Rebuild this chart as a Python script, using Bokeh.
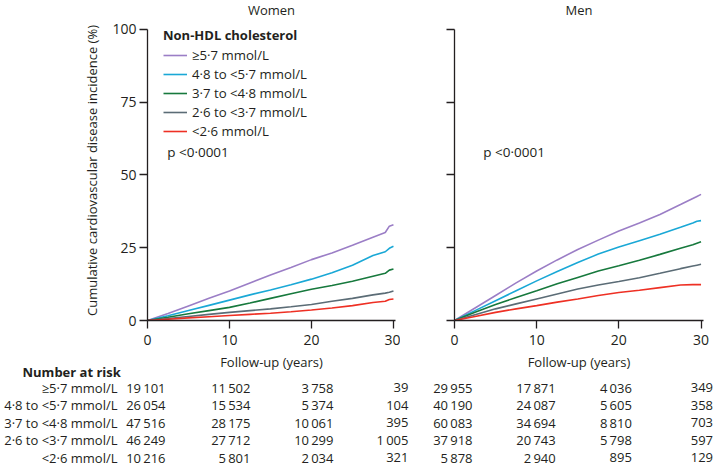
from bokeh.plotting import figure
from bokeh.models import Range1d, Legend, LegendItem, Label, FixedTicker
from bokeh.layouts import column, row
from bokeh.embed import file_html
from bokeh.resources import INLINE
from bokeh.core.properties import value

# ---------------- data ----------------
years = [0, 2.5, 5, 7.5, 10, 12.5, 15, 17.5, 20, 22.5, 25, 27.5, 29, 29.5, 30]
groups = ["≥5·7 mmol/L", "4·8 to <5·7 mmol/L", "3·7 to <4·8 mmol/L",
          "2·6 to <3·7 mmol/L", "<2·6 mmol/L"]

women_ge57 = [0, 2.4, 5.0, 7.6, 10.1, 12.9, 15.6, 18.2, 20.9, 23.2, 25.8, 28.6, 30.2, 32.4, 32.9]
women_48_57 = [0, 1.6, 3.4, 5.2, 7.0, 8.8, 10.5, 12.3, 14.2, 16.4, 19.0, 22.3, 23.6, 24.8, 25.5]
women_37_48 = [0, 1.1, 2.3, 3.4, 4.5, 6.0, 7.6, 9.2, 10.7, 12.0, 13.5, 15.2, 16.2, 17.3, 17.7]
women_26_37 = [0, 0.7, 1.4, 2.1, 2.8, 3.4, 4.0, 4.7, 5.5, 6.6, 7.6, 8.8, 9.4, 9.7, 10.1]
women_lt26 = [0, 0.45, 0.9, 1.3, 1.7, 2.1, 2.5, 3.0, 3.6, 4.3, 5.1, 6.2, 6.6, 7.2, 7.4]

men_ge57 = [0, 4.3, 8.6, 12.9, 17.0, 20.8, 24.4, 27.6, 30.7, 33.5, 36.4, 39.8, 41.9, 42.6, 43.3]
men_48_57 = [0, 3.4, 6.8, 10.2, 13.6, 16.8, 19.9, 22.8, 25.2, 27.4, 29.6, 32.0, 33.5, 34.1, 34.3]
men_37_48 = [0, 2.8, 5.5, 7.9, 10.2, 12.6, 14.8, 17.0, 18.8, 20.7, 22.7, 24.8, 26.0, 26.5, 27.0]
men_26_37 = [0, 2.0, 4.0, 5.7, 7.4, 9.1, 10.8, 12.2, 13.4, 14.7, 16.2, 17.8, 18.7, 19.0, 19.3]
men_lt26 = [0, 1.4, 2.8, 4.0, 5.1, 6.3, 7.4, 8.6, 9.6, 10.4, 11.3, 12.2, 12.3, 12.3, 12.3]

x_ticks = [0, 10, 20, 30]
y_ticks = [0, 25, 50, 75, 100]
risk_times = [0, 10, 20, 30]

women_risk_ge57 = [19101, 11502, 3758, 39]
women_risk_48_57 = [26054, 15534, 5374, 104]
women_risk_37_48 = [47516, 28175, 10061, 395]
women_risk_26_37 = [46249, 27712, 10299, 1005]
women_risk_lt26 = [10216, 5801, 2034, 321]

men_risk_ge57 = [29955, 17871, 4036, 349]
men_risk_48_57 = [40190, 24087, 5605, 358]
men_risk_37_48 = [60083, 34694, 8810, 703]
men_risk_26_37 = [37918, 20743, 5798, 597]
men_risk_lt26 = [5878, 2940, 895, 129]

# ---------------- styles / layout ----------------
FONT = "Open Sans"
INK = "#231f20"
COLORS = ["#9b7ec6", "#1aa8d6", "#17793d", "#5b6c76", "#ee3024"]

BOTTOM = 53
TOP_H = 17 + 303 + BOTTOM
OVER = 17                      # table row tucked up under the axis-title band
TAB_H = 473 - TOP_H + OVER
W_WOMEN = 400
W_MEN = 316
WOMEN_LEFT = 147
WOMEN_RIGHT = 5
MEN_LEFT = 54
MEN_RIGHT = 13
X_END_W = 30.25
X_END_M = 30.3
Y_TOP = 103
TW_WOMEN = 415
TW_MEN = W_WOMEN + W_MEN - TW_WOMEN


def style_axes(p, show_y_labels):
    p.outline_line_color = None
    p.grid.visible = False
    for ax in (p.xaxis[0], p.yaxis[0]):
        ax.axis_line_color = INK
        ax.axis_line_width = 1.3
        ax.major_tick_line_color = INK
        ax.major_tick_line_width = 1.3
        ax.major_tick_out = 8
        ax.major_tick_in = 0
        ax.minor_tick_line_color = None
        ax.major_label_text_font = FONT
        ax.major_label_text_font_size = "14px"
        ax.major_label_text_color = INK
        ax.axis_label_text_font = FONT
        ax.axis_label_text_font_size = "13px"
        ax.axis_label_text_font_style = "normal"
        ax.axis_label_text_color = INK
    p.xaxis.ticker = FixedTicker(ticks=x_ticks)
    p.yaxis.ticker = FixedTicker(ticks=y_ticks)
    p.yaxis.bounds = (y_ticks[0], y_ticks[-1])
    p.xaxis.axis_label = "Follow-up (years)"
    p.xaxis.major_label_standoff = 6
    p.xaxis.axis_label_standoff = 5
    p.yaxis.major_label_standoff = 3
    if show_y_labels:
        p.yaxis.axis_label = "Cumulative cardiovascular disease incidence (%)"
        p.yaxis.axis_label_standoff = 8
    else:
        p.yaxis.major_label_overrides = {t: "" for t in y_ticks}


def make_panel(title, series, width, left, right, x_end, show_y_labels):
    p = figure(width=width, height=TOP_H, x_range=Range1d(0, x_end), y_range=Range1d(0, Y_TOP),
               output_backend="svg", toolbar_location=None,
               min_border_left=left, min_border_right=right, min_border_top=17,
               min_border_bottom=BOTTOM)
    p.title.text = title
    p.title.align = "center"
    p.title.vertical_align = "top"
    p.title.text_font = FONT
    p.title.text_font_size = "13px"
    p.title.text_font_style = "normal"
    p.title.text_color = INK
    p.title.standoff = 0
    style_axes(p, show_y_labels)
    rs = []
    for vals, c in zip(series, COLORS):
        rs.append(p.line(years, vals, line_color=c, line_width=1.6))
    return p, rs


pw, rw = make_panel("Women", [women_ge57, women_48_57, women_37_48, women_26_37, women_lt26],
                    W_WOMEN, WOMEN_LEFT, WOMEN_RIGHT, X_END_W, True)
pm, rm = make_panel("Men", [men_ge57, men_48_57, men_37_48, men_26_37, men_lt26],
                    W_MEN, MEN_LEFT, MEN_RIGHT, X_END_M, False)

legend = Legend(items=[LegendItem(label=g, renderers=[r]) for g, r in zip(groups, rw)],
                title="Non-HDL cholesterol", location=(16, 180))
legend.title_text_font = FONT
legend.title_text_font_size = "13px"
legend.title_text_font_style = "bold"
legend.title_text_color = INK
legend.title_standoff = 2
legend.label_text_font = FONT
legend.label_text_font_size = "13.2px"
legend.label_text_color = INK
legend.label_standoff = 5
legend.glyph_width = 24
legend.glyph_height = 18
legend.label_height = 18
legend.spacing = 1
legend.padding = 0
legend.margin = 0
legend.border_line_color = None
legend.background_fill_alpha = 0
pw.add_layout(legend)

for p, xp in ((pw, 2.4), (pm, 3.5)):
    p.add_layout(Label(x=xp, y=58, text="p <0·0001", text_baseline="middle",
                       text_font=FONT, text_font_size="13.5px", text_color=INK))

# ---------------- number-at-risk tables ----------------
kw = (W_WOMEN - WOMEN_LEFT - WOMEN_RIGHT) / X_END_W
km = (W_MEN - MEN_LEFT - MEN_RIGHT) / X_END_M
PITCH = 17.5
FIRST_ROW = 387 - (TOP_H - OVER)
y_top = 1 - FIRST_ROW / PITCH
tab_y = Range1d(y_top + TAB_H / PITCH, y_top)


def make_table(width, x_range, risks, extra):
    t = figure(width=width, height=TAB_H, x_range=x_range, y_range=tab_y,
               output_backend="svg", toolbar_location=None, min_border=0,
               x_axis_type=None, y_axis_type=None, margin=(-OVER, 0, 0, 0))
    t.outline_line_color = None
    t.grid.visible = False
    t.background_fill_alpha = 0
    t.border_fill_alpha = 0
    for j, tm in enumerate(risk_times):
        col = [r[j] for r in risks]
        maxlen = max(len(str(n)) for n in col)
        txt = [f"{n:,}".replace(",", "\u2009") for n in col]
        t.text(x=[tm] * len(col), y=list(range(1, len(col) + 1)), text=txt,
               text_align="right", text_baseline="middle", x_offset=3 * maxlen + 3 + extra[j],
               text_font=value(FONT), text_font_size="13px", text_color=INK)
    return t


men_tab_left = W_WOMEN + MEN_LEFT - TW_WOMEN
tw = make_table(TW_WOMEN, Range1d(-WOMEN_LEFT / kw, (TW_WOMEN - WOMEN_LEFT) / kw),
                [women_risk_ge57, women_risk_48_57, women_risk_37_48, women_risk_26_37, women_risk_lt26],
                [0, 3, 4, 0])
tmn = make_table(TW_MEN, Range1d(-men_tab_left / km, (TW_MEN - men_tab_left) / km),
                 [men_risk_ge57, men_risk_48_57, men_risk_37_48, men_risk_26_37, men_risk_lt26],
                 [0, 1, -2, 0])

tw.text(x=[0] * len(groups), y=list(range(1, len(groups) + 1)), text=groups,
        text_align="right", text_baseline="middle", x_offset=-30,
        text_font=value(FONT), text_font_size="13px", text_color=INK)
tw.text(x=[0], y=[0], text=["Number at risk"], text_align="left", text_baseline="middle",
        x_offset=-125, y_offset=2, text_font=value(FONT), text_font_size="13px",
        text_font_style="bold", text_color=INK)

layout = column(row(pw, pm), row(tw, tmn))

open("out.html", "w").write(file_html(layout, INLINE))
